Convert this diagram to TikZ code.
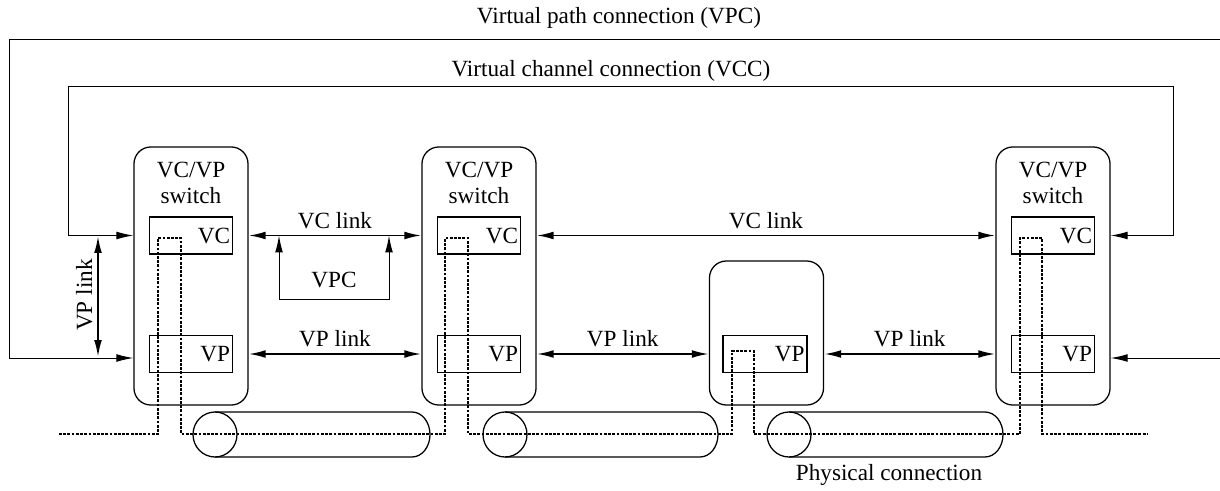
\documentclass[tikz,border=0pt]{standalone}
\usepackage{fontspec}
\setmainfont{Liberation Serif}
\usetikzlibrary{arrows.meta, positioning}
\tikzset{
  switchbox/.style={draw, line width=0.9pt, rounded corners=12pt, minimum width=2.85cm, minimum height=6.45cm},
  cellbox/.style={draw, line width=0.8pt, minimum width=2.075cm, minimum height=0.925cm, inner sep=0pt},
  tip/.tip={Latex[length=12pt, width=5.5pt]},
  link/.style={line width=1.3pt, tip-tip},
  conn/.style={line width=0.7pt},
  fiber/.style={line width=1.1pt, dash pattern=on 2pt off 1pt},
  cable/.style={line width=0.9pt}
}

\begin{document}
\begin{tikzpicture}[x=0.025cm, y=-0.025cm, font=\fontsize{16.5}{19}\selectfont]
    \useasboundingbox (0,0) rectangle (1220,491);
    % Switches with their VC and VP parts
    \foreach \n/\cx in {1/191,2/479,3/1053} {
      \node[switchbox] (sw\n) at (\cx,276) {};
      \node[align=center] (swt\n) at (\cx,183) {VC/VP\\switch};
      \node[cellbox, label={[anchor=east, inner xsep=2pt]east:VC}] (vc\n) at (\cx,235.5) {};
      \node[cellbox, label={[anchor=east, inner xsep=2pt]east:VP}] (vp\n) at (\cx,354) {};
    }
    % VP-only switch
    \node[switchbox, minimum height=3.6cm] (mid) at (766.5,333) {};
    \node[cellbox, minimum width=2.1cm, label={[anchor=east, inner xsep=2pt]east:VP}] (vpm) at (765,354) {};
    % Physical connection (cables)
    \foreach \a/\b in {215/430,505/718,789/1003} {
      \draw[cable] (\a,434.5) ellipse[x radius=22, y radius=22.5];
      \draw[cable] (\a,412) -- (\b-18,412) arc[start angle=-90, end angle=90, x radius=18, y radius=22.5] -- (\a,457);
    }
    \node (phys) at (889,475) {Physical connection};
    % Dotted route through the switches
    \draw[fiber] (59,434) -| (158,238) -| (181,434) -| (445,238) -| (468,434)
      -| (732,351) -| (754,434) -| (1020,238) -| (1042,434) -- (1148,434);
    % VC and VP links
    \draw[link] (sw1.east |- vc1) -- (sw2.west |- vc2) node[midway, above=1pt] (vcl1) {VC link};
    \draw[link] (sw2.east |- vc2) -- (sw3.west |- vc3) node[midway, above=1pt] (vcl2) {VC link};
    \draw[link] (sw1.east |- vp1) -- (sw2.west |- vp2) node[midway, above=1pt] (vpl1) {VP link};
    \draw[link] (sw2.east |- vp2) -- (mid.west |- vpm) node[midway, above=1pt] (vpl2) {VP link};
    \draw[link] (mid.east |- vpm) -- (sw3.west |- vp3) node[midway, above=1pt] (vpl3) {VP link};
    % VPC inside the first VC link
    \coordinate (vpcL) at (279,299);
    \coordinate (vpcR) at (389,299);
    \draw[conn, tip-tip] (vpcL |- vc1) -- (vpcL) -- (vpcR) -- (vpcR |- vc1);
    \node (vpc) at (334,280) {VPC};
    % Virtual channel connection
    \coordinate (vccL) at (68,86);
    \coordinate (vccR) at (1173,86);
    \draw[conn, tip-tip] (sw1.west |- vc1) -| (vccL) -- (vccR) |- (sw3.east |- vc3);
    \node (vcc) at (611,71) {Virtual channel connection (VCC)};
    % Virtual path connection
    \coordinate (vpcA) at (9,39);
    \coordinate (vpcB) at (1220,39);
    \coordinate (vpcC) at (1220,358);
    \draw[conn, -tip] (vpcB) -- (vpcA) |- (sw1.west |- vpcC);
    \draw[conn, -tip] (vpcC) -- (sw3.east |- vpcC);
    \node (vpct) at (619,18) {Virtual path connection (VPC)};
    % VP link between the two inputs
    \coordinate (vplT) at (98,236);
    \coordinate (vplB) at (98,357);
    \draw[link] (vplT) -- (vplB) node[midway, rotate=90, above=1pt] (vplv) {VP link};
\end{tikzpicture}
\end{document}
